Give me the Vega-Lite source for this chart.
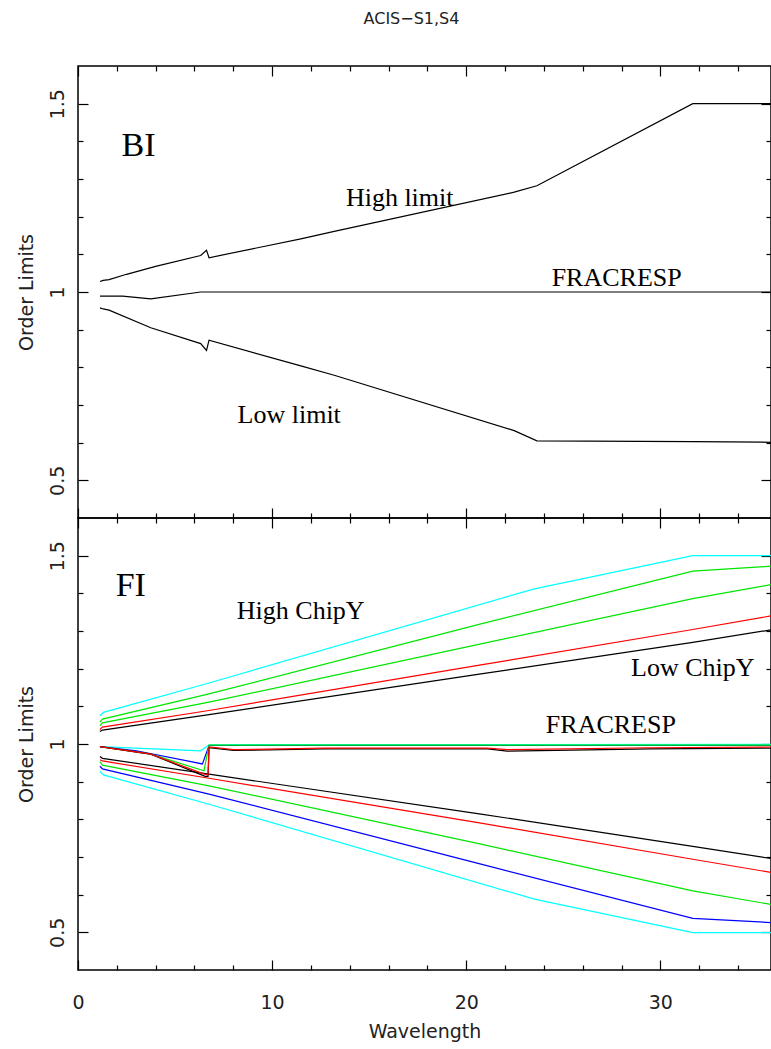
{
  "$schema": "https://vega.github.io/schema/vega-lite/v6.json",
  "background": "white",
  "padding": {"left": 16, "top": 10, "right": 0, "bottom": 5},
  "title": {"text": "ACIS−S1,S4", "font": "DejaVu Sans", "fontSize": 16, "fontWeight": "normal", "color": "#222", "anchor": "middle", "frame": "group", "dx": -13, "offset": 38},
  "spacing": 0,
  "bounds": "flush",
  "config": {
    "view": {"stroke": "black", "strokeWidth": 1.5},
    "axis": {"domain": false, "grid": false, "tickColor": "black", "tickWidth": 1.2, "labelFont": "DejaVu Sans", "labelFontSize": 19, "labelColor": "#222", "titleFont": "DejaVu Sans", "titleFontSize": 19, "titleFontWeight": "normal", "titleColor": "#222", "labelOverlap": false, "labelFlush": false}
  },
  "datasets": {
    "bi": [
      {"line": "high", "w": 1.13, "v": 1.028}, {"line": "high", "w": 1.3, "v": 1.031}, {"line": "high", "w": 1.6, "v": 1.033}, {"line": "high", "w": 2.5, "v": 1.047}, {"line": "high", "w": 4.0, "v": 1.068}, {"line": "high", "w": 6.32, "v": 1.097}, {"line": "high", "w": 6.62, "v": 1.111}, {"line": "high", "w": 6.75, "v": 1.091}, {"line": "high", "w": 11.48, "v": 1.141}, {"line": "high", "w": 13.2, "v": 1.161}, {"line": "high", "w": 22.47, "v": 1.265}, {"line": "high", "w": 23.64, "v": 1.282}, {"line": "high", "w": 31.67, "v": 1.5}, {"line": "high", "w": 35.7, "v": 1.5},
      {"line": "low", "w": 1.13, "v": 0.958}, {"line": "low", "w": 1.3, "v": 0.955}, {"line": "low", "w": 1.6, "v": 0.952}, {"line": "low", "w": 3.75, "v": 0.905}, {"line": "low", "w": 6.32, "v": 0.863}, {"line": "low", "w": 6.62, "v": 0.845}, {"line": "low", "w": 6.75, "v": 0.872}, {"line": "low", "w": 11.48, "v": 0.804}, {"line": "low", "w": 13.2, "v": 0.779}, {"line": "low", "w": 22.47, "v": 0.632}, {"line": "low", "w": 23.64, "v": 0.605}, {"line": "low", "w": 31.67, "v": 0.603}, {"line": "low", "w": 35.7, "v": 0.601},
      {"line": "frac", "w": 1.13, "v": 0.989}, {"line": "frac", "w": 2.3, "v": 0.989}, {"line": "frac", "w": 3.75, "v": 0.982}, {"line": "frac", "w": 6.32, "v": 1.0}, {"line": "frac", "w": 35.7, "v": 1.0}
    ],
    "fi": [
      {"line": "u_cyan", "col": "cyan", "w": 1.13, "v": 1.075}, {"line": "u_cyan", "col": "cyan", "w": 1.31, "v": 1.084}, {"line": "u_cyan", "col": "cyan", "w": 6.75, "v": 1.162}, {"line": "u_cyan", "col": "cyan", "w": 23.51, "v": 1.412}, {"line": "u_cyan", "col": "cyan", "w": 31.67, "v": 1.5}, {"line": "u_cyan", "col": "cyan", "w": 35.7, "v": 1.5},
      {"line": "l_cyan", "col": "cyan", "w": 1.13, "v": 0.927}, {"line": "l_cyan", "col": "cyan", "w": 1.31, "v": 0.918}, {"line": "l_cyan", "col": "cyan", "w": 6.75, "v": 0.84}, {"line": "l_cyan", "col": "cyan", "w": 23.51, "v": 0.588}, {"line": "l_cyan", "col": "cyan", "w": 31.67, "v": 0.499}, {"line": "l_cyan", "col": "cyan", "w": 35.7, "v": 0.499},
      {"line": "f_cyan", "col": "cyan", "w": 1.13, "v": 0.993}, {"line": "f_cyan", "col": "cyan", "w": 6.32, "v": 0.982}, {"line": "f_cyan", "col": "cyan", "w": 6.75, "v": 0.998}, {"line": "f_cyan", "col": "cyan", "w": 35.7, "v": 0.999},
      {"line": "l_blue", "col": "blue", "w": 1.13, "v": 0.941}, {"line": "l_blue", "col": "blue", "w": 1.26, "v": 0.934}, {"line": "l_blue", "col": "blue", "w": 6.75, "v": 0.867}, {"line": "l_blue", "col": "blue", "w": 20.76, "v": 0.681}, {"line": "l_blue", "col": "blue", "w": 31.67, "v": 0.537}, {"line": "l_blue", "col": "blue", "w": 35.7, "v": 0.526},
      {"line": "f_blue", "col": "blue", "w": 1.13, "v": 0.993}, {"line": "f_blue", "col": "blue", "w": 3.0, "v": 0.982}, {"line": "f_blue", "col": "blue", "w": 6.41, "v": 0.947}, {"line": "f_blue", "col": "blue", "w": 6.75, "v": 0.996}, {"line": "f_blue", "col": "blue", "w": 35.7, "v": 0.996},
      {"line": "u_green1", "col": "green", "w": 1.13, "v": 1.058}, {"line": "u_green1", "col": "green", "w": 1.26, "v": 1.066}, {"line": "u_green1", "col": "green", "w": 6.75, "v": 1.133}, {"line": "u_green1", "col": "green", "w": 20.76, "v": 1.319}, {"line": "u_green1", "col": "green", "w": 31.67, "v": 1.459}, {"line": "u_green1", "col": "green", "w": 35.7, "v": 1.472},
      {"line": "u_green2", "col": "green", "w": 1.13, "v": 1.049}, {"line": "u_green2", "col": "green", "w": 1.26, "v": 1.056}, {"line": "u_green2", "col": "green", "w": 6.75, "v": 1.111}, {"line": "u_green2", "col": "green", "w": 20.76, "v": 1.266}, {"line": "u_green2", "col": "green", "w": 31.67, "v": 1.386}, {"line": "u_green2", "col": "green", "w": 35.7, "v": 1.423},
      {"line": "l_green", "col": "green", "w": 1.13, "v": 0.953}, {"line": "l_green", "col": "green", "w": 1.26, "v": 0.944}, {"line": "l_green", "col": "green", "w": 6.75, "v": 0.889}, {"line": "l_green", "col": "green", "w": 20.76, "v": 0.734}, {"line": "l_green", "col": "green", "w": 31.67, "v": 0.61}, {"line": "l_green", "col": "green", "w": 35.7, "v": 0.574},
      {"line": "f_green", "col": "green", "w": 1.13, "v": 0.993}, {"line": "f_green", "col": "green", "w": 3.75, "v": 0.973}, {"line": "f_green", "col": "green", "w": 6.49, "v": 0.929}, {"line": "f_green", "col": "green", "w": 6.75, "v": 0.997}, {"line": "f_green", "col": "green", "w": 35.7, "v": 0.997},
      {"line": "u_black", "col": "black", "w": 1.13, "v": 1.033}, {"line": "u_black", "col": "black", "w": 1.26, "v": 1.037}, {"line": "u_black", "col": "black", "w": 6.75, "v": 1.078}, {"line": "u_black", "col": "black", "w": 20.76, "v": 1.186}, {"line": "u_black", "col": "black", "w": 31.67, "v": 1.27}, {"line": "u_black", "col": "black", "w": 35.7, "v": 1.303},
      {"line": "l_black", "col": "black", "w": 1.13, "v": 0.967}, {"line": "l_black", "col": "black", "w": 1.26, "v": 0.962}, {"line": "l_black", "col": "black", "w": 6.75, "v": 0.92}, {"line": "l_black", "col": "black", "w": 20.76, "v": 0.814}, {"line": "l_black", "col": "black", "w": 31.67, "v": 0.728}, {"line": "l_black", "col": "black", "w": 35.7, "v": 0.696},
      {"line": "f_black", "col": "black", "w": 1.13, "v": 0.993}, {"line": "f_black", "col": "black", "w": 3.75, "v": 0.973}, {"line": "f_black", "col": "black", "w": 6.55, "v": 0.914}, {"line": "f_black", "col": "black", "w": 6.7, "v": 0.914}, {"line": "f_black", "col": "black", "w": 6.75, "v": 0.99}, {"line": "f_black", "col": "black", "w": 8.0, "v": 0.983}, {"line": "f_black", "col": "black", "w": 12.7, "v": 0.987}, {"line": "f_black", "col": "black", "w": 21.1, "v": 0.987}, {"line": "f_black", "col": "black", "w": 22.1, "v": 0.981}, {"line": "f_black", "col": "black", "w": 29.5, "v": 0.987}, {"line": "f_black", "col": "black", "w": 35.7, "v": 0.989},
      {"line": "u_red", "col": "red", "w": 1.13, "v": 1.038}, {"line": "u_red", "col": "red", "w": 1.26, "v": 1.045}, {"line": "u_red", "col": "red", "w": 6.75, "v": 1.089}, {"line": "u_red", "col": "red", "w": 20.76, "v": 1.21}, {"line": "u_red", "col": "red", "w": 31.67, "v": 1.304}, {"line": "u_red", "col": "red", "w": 35.7, "v": 1.34},
      {"line": "l_red", "col": "red", "w": 1.13, "v": 0.958}, {"line": "l_red", "col": "red", "w": 1.26, "v": 0.955}, {"line": "l_red", "col": "red", "w": 6.75, "v": 0.909}, {"line": "l_red", "col": "red", "w": 20.76, "v": 0.79}, {"line": "l_red", "col": "red", "w": 31.67, "v": 0.694}, {"line": "l_red", "col": "red", "w": 35.7, "v": 0.659},
      {"line": "f_red", "col": "red", "w": 1.13, "v": 0.993}, {"line": "f_red", "col": "red", "w": 3.75, "v": 0.973}, {"line": "f_red", "col": "red", "w": 6.5, "v": 0.92}, {"line": "f_red", "col": "red", "w": 6.7, "v": 0.918}, {"line": "f_red", "col": "red", "w": 6.75, "v": 0.992}, {"line": "f_red", "col": "red", "w": 8.0, "v": 0.985}, {"line": "f_red", "col": "red", "w": 12.7, "v": 0.989}, {"line": "f_red", "col": "red", "w": 21.1, "v": 0.989}, {"line": "f_red", "col": "red", "w": 22.1, "v": 0.985}, {"line": "f_red", "col": "red", "w": 29.5, "v": 0.99}, {"line": "f_red", "col": "red", "w": 35.7, "v": 0.992}
    ],
    "bilab": [
      {"kind": "big", "text": "BI", "w": 2.24, "v": 1.362},
      {"kind": "note", "text": "High limit", "w": 13.8, "v": 1.229},
      {"kind": "note", "text": "FRACRESP", "w": 24.4, "v": 1.016},
      {"kind": "note", "text": "Low limit", "w": 8.22, "v": 0.651}
    ],
    "filab": [
      {"kind": "big", "text": "FI", "w": 1.94, "v": 1.393},
      {"kind": "note", "text": "High ChipY", "w": 8.18, "v": 1.332},
      {"kind": "note", "text": "Low ChipY", "w": 28.49, "v": 1.18},
      {"kind": "note", "text": "FRACRESP", "w": 24.1, "v": 1.028}
    ]
  },
  "vconcat": [
    {
      "width": 693,
      "height": 452,
      "layer": [
        {
          "data": {"name": "bi"},
          "mark": {"type": "line", "color": "black", "strokeWidth": 1.2, "clip": true},
          "encoding": {
            "x": {"field": "w", "type": "quantitative", "scale": {"domain": [0, 35.7], "nice": false, "zero": false},
              "axis": {"orient": "bottom", "values": [0, 2, 4, 6, 8, 10, 12, 14, 16, 18, 20, 22, 24, 26, 28, 30, 32, 34], "labels": false, "title": null,
                "tickSize": {"condition": {"test": "datum.value % 10 === 0", "value": -10}, "value": -5}}},
            "y": {"field": "v", "type": "quantitative", "scale": {"domain": [0.4, 1.6], "nice": false, "zero": false},
              "axis": {"orient": "left", "values": [0.5, 0.6, 0.7, 0.8, 0.9, 1, 1.1, 1.2, 1.3, 1.4, 1.5],
                "tickSize": {"condition": {"test": "abs(datum.value*2 - round(datum.value*2)) < 0.001", "value": -10}, "value": -5},
                "labelExpr": "abs(datum.value*2 - round(datum.value*2)) < 0.001 ? (datum.value > 1.2 ? '1.5' : (datum.value > 0.7 ? '1' : '0.5')) : ''",
                "labelAngle": -90, "labelAlign": "center", "labelBaseline": "alphabetic", "labelPadding": 25,
                "title": "Order Limits", "titleAngle": -90, "titleX": -52, "titleY": 226, "titleAlign": "center", "titleBaseline": "middle"}},
            "detail": {"field": "line", "type": "nominal"}
          }
        },
        {
          "data": {"name": "bilab"},
          "transform": [{"filter": "datum.kind === 'big'"}],
          "mark": {"type": "text", "font": "Liberation Serif", "fontSize": 34, "align": "left", "baseline": "alphabetic", "color": "black"},
          "encoding": {
            "x": {"field": "w", "type": "quantitative", "axis": {"orient": "top", "values": [0, 2, 4, 6, 8, 10, 12, 14, 16, 18, 20, 22, 24, 26, 28, 30, 32, 34], "labels": false, "title": null,
              "tickSize": {"condition": {"test": "datum.value % 10 === 0", "value": -10}, "value": -5}}},
            "y": {"field": "v", "type": "quantitative", "axis": {"orient": "right", "values": [0.5, 0.6, 0.7, 0.8, 0.9, 1, 1.1, 1.2, 1.3, 1.4, 1.5], "labels": false, "title": null,
              "tickSize": {"condition": {"test": "abs(datum.value*2 - round(datum.value*2)) < 0.001", "value": -10}, "value": -5}}},
            "text": {"field": "text"}
          }
        },
        {
          "data": {"name": "bilab"},
          "transform": [{"filter": "datum.kind === 'note'"}],
          "mark": {"type": "text", "font": "Liberation Serif", "fontSize": 26, "align": "left", "baseline": "alphabetic", "color": "black"},
          "encoding": {
            "x": {"field": "w", "type": "quantitative", "axis": null},
            "y": {"field": "v", "type": "quantitative", "axis": null},
            "text": {"field": "text"}
          }
        }
      ],
      "resolve": {"axis": {"x": "independent", "y": "independent"}}
    },
    {
      "width": 693,
      "height": 452,
      "layer": [
        {
          "data": {"name": "fi"},
          "mark": {"type": "line", "strokeWidth": 1.2, "clip": true},
          "encoding": {
            "x": {"field": "w", "type": "quantitative", "scale": {"domain": [0, 35.7], "nice": false, "zero": false},
              "axis": {"orient": "bottom", "values": [0, 2, 4, 6, 8, 10, 12, 14, 16, 18, 20, 22, 24, 26, 28, 30, 32, 34],
                "labelExpr": "datum.value % 10 === 0 ? datum.label : ''", "labelPadding": 33,
                "tickSize": {"condition": {"test": "datum.value % 10 === 0", "value": -10}, "value": -5},
                "title": "Wavelength", "titleY": 61, "titleBaseline": "middle"}},
            "y": {"field": "v", "type": "quantitative", "scale": {"domain": [0.4, 1.6], "nice": false, "zero": false},
              "axis": {"orient": "left", "values": [0.5, 0.6, 0.7, 0.8, 0.9, 1, 1.1, 1.2, 1.3, 1.4, 1.5],
                "tickSize": {"condition": {"test": "abs(datum.value*2 - round(datum.value*2)) < 0.001", "value": -10}, "value": -5},
                "labelExpr": "abs(datum.value*2 - round(datum.value*2)) < 0.001 ? (datum.value > 1.2 ? '1.5' : (datum.value > 0.7 ? '1' : '0.5')) : ''",
                "labelAngle": -90, "labelAlign": "center", "labelBaseline": "alphabetic", "labelPadding": 25,
                "title": "Order Limits", "titleAngle": -90, "titleX": -52, "titleY": 226, "titleAlign": "center", "titleBaseline": "middle"}},
            "color": {"field": "col", "type": "nominal", "scale": {"domain": ["black", "red", "green", "blue", "cyan"], "range": ["#000000", "#ff0000", "#00e600", "#0000ff", "#00ffff"]}, "legend": null},
            "detail": {"field": "line", "type": "nominal"}
          }
        },
        {
          "data": {"name": "filab"},
          "transform": [{"filter": "datum.kind === 'big'"}],
          "mark": {"type": "text", "font": "Liberation Serif", "fontSize": 34, "align": "left", "baseline": "alphabetic", "color": "black"},
          "encoding": {
            "x": {"field": "w", "type": "quantitative", "axis": {"orient": "top", "values": [0, 2, 4, 6, 8, 10, 12, 14, 16, 18, 20, 22, 24, 26, 28, 30, 32, 34], "labels": false, "title": null,
              "tickSize": {"condition": {"test": "datum.value % 10 === 0", "value": -10}, "value": -5}}},
            "y": {"field": "v", "type": "quantitative", "axis": {"orient": "right", "values": [0.5, 0.6, 0.7, 0.8, 0.9, 1, 1.1, 1.2, 1.3, 1.4, 1.5], "labels": false, "title": null,
              "tickSize": {"condition": {"test": "abs(datum.value*2 - round(datum.value*2)) < 0.001", "value": -10}, "value": -5}}},
            "text": {"field": "text"}
          }
        },
        {
          "data": {"name": "filab"},
          "transform": [{"filter": "datum.kind === 'note'"}],
          "mark": {"type": "text", "font": "Liberation Serif", "fontSize": 26, "align": "left", "baseline": "alphabetic", "color": "black"},
          "encoding": {
            "x": {"field": "w", "type": "quantitative", "axis": null},
            "y": {"field": "v", "type": "quantitative", "axis": null},
            "text": {"field": "text"}
          }
        }
      ],
      "resolve": {"axis": {"x": "independent", "y": "independent"}}
    }
  ]
}
